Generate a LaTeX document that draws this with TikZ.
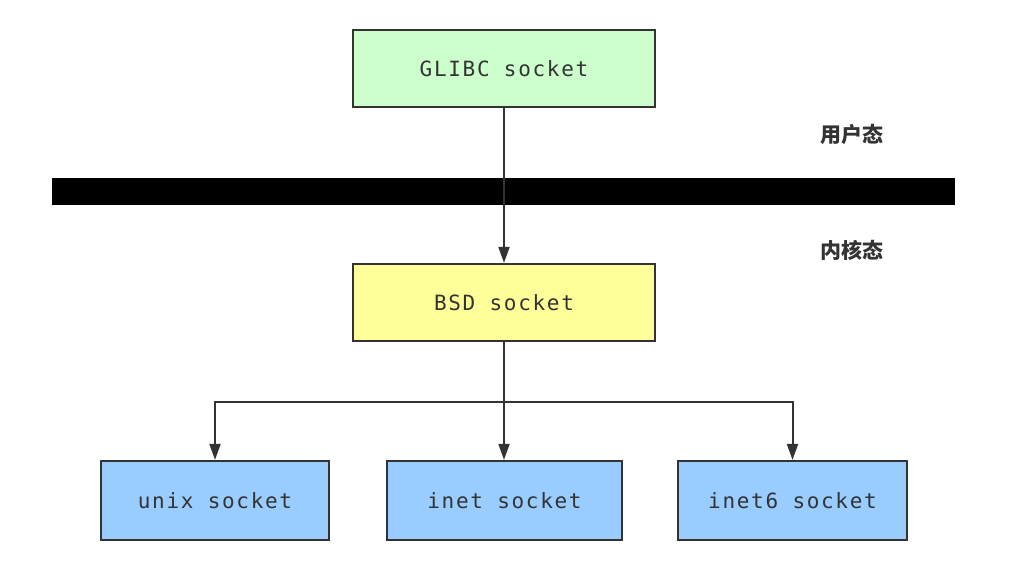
\documentclass[tikz,border=0pt]{standalone}
\usepackage{fontspec}
\setmonofont[LetterSpace=8]{DejaVu Sans Mono}
\newfontfamily\cjk{Noto Sans CJK SC}
\usetikzlibrary{arrows.meta}
\definecolor{ink}{HTML}{333333}
\definecolor{gfill}{HTML}{CCFFCC}
\definecolor{yfill}{HTML}{FFFF99}
\definecolor{bfill}{HTML}{99CCFF}
\begin{document}
\begin{tikzpicture}[x=1pt,y=-1pt,
  box/.style={draw=ink,line width=2.2pt,minimum height=77pt,inner sep=0pt,
    font=\ttfamily\fontsize{21}{25}\selectfont,text=ink},
  conn/.style={draw=ink,line width=2pt,-{Triangle[length=16pt,width=11pt]}},
  lbl/.style={font=\cjk\fontsize{21}{24}\selectfont\bfseries,text=ink}]
\useasboundingbox (0,0) rectangle (1034,583);
\node[box,fill=gfill,minimum width=302pt] (glibc) at (504,68.5) {GLIBC socket};
\node[box,fill=yfill,minimum width=302pt] (bsd) at (504,302.5) {BSD socket};
\node[box,fill=bfill,minimum width=228pt,minimum height=79pt] (unix) at (215,500.5) {unix socket};
\node[box,fill=bfill,minimum width=235pt,minimum height=79pt] (inet) at (504.5,500.5) {inet socket};
\node[box,fill=bfill,minimum width=229pt,minimum height=79pt] (inet6) at (792.5,500.5) {inet6 socket};
\fill[black] (52,178) rectangle (955,205);
\node[lbl] (user) at (852,134) {用户态};
\node[lbl] (kern) at (852,250) {内核态};
\draw[conn] (glibc.south) -- (bsd.north);
\coordinate (split) at (504,402);
\draw[draw=ink,line width=2pt] (bsd.south) -- (split);
\draw[conn] (split) -- (inet.north -| split);
\draw[conn] (split) -| (unix.north);
\draw[conn] (split) -| (inet6.north);
\end{tikzpicture}
\end{document}
